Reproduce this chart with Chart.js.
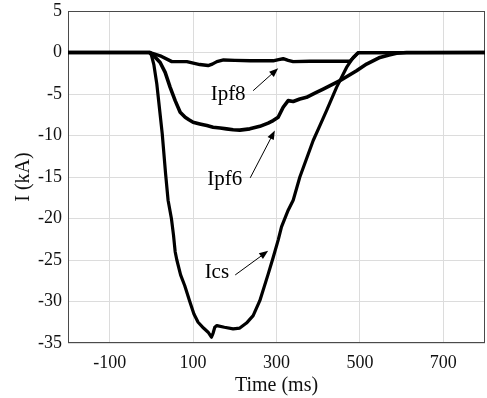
<!DOCTYPE html>
<html>
<head>
<meta charset="utf-8">
<script src="https://cdn.jsdelivr.net/npm/chart.js@4/dist/chart.umd.min.js"></script>
<style>
  html, body { margin: 0; padding: 0; background: #fff; }
  #wrap { width: 487px; height: 398px; }
</style>
</head>
<body>
<div id="wrap"><canvas id="currentChart"></canvas></div>
<script>
// DATA (time in ms, current in kA)
const xTicks = [-100, 100, 300, 500, 700];
const yTicks = [-35, -30, -25, -20, -15, -10, -5, 0, 5];

const icsTime = [-200, -5, 0, 6, 13, 26, 34, 40, 48, 53, 57, 61, 70, 80, 92, 102, 112, 125, 136, 144, 148, 152, 157, 175, 196, 212, 228, 244, 260, 280, 292, 304, 312, 328, 340, 356, 372, 388, 404, 420, 444, 468, 484, 496, 800];
const icsCurrent = [0, 0, -0.3, -1.5, -3.8, -9.8, -14.6, -17.8, -20, -22, -24, -25, -26.8, -28.1, -30, -31.5, -32.5, -33.2, -33.7, -34.3, -33.8, -33.1, -32.9, -33.1, -33.3, -33.2, -32.6, -31.7, -29.9, -26.7, -24.7, -22.6, -21, -19, -17.8, -15, -12.8, -10.6, -8.8, -7, -4.2, -1.8, -0.6, 0, 0];

const ipf6Time = [-200, -3, 8, 21, 33, 45, 57, 69, 81, 90, 100, 116, 133, 148, 165, 180, 196, 212, 236, 260, 280, 292, 304, 316, 328, 340, 356, 372, 392, 412, 432, 452, 472, 492, 516, 548, 570, 588, 612, 800];
const ipf6Current = [0, 0, -0.5, -1.2, -2.4, -4.2, -5.8, -7.2, -7.8, -8.1, -8.4, -8.6, -8.8, -9.0, -9.1, -9.2, -9.3, -9.35, -9.2, -8.9, -8.5, -8.2, -7.8, -6.6, -5.8, -5.9, -5.6, -5.4, -4.9, -4.4, -3.9, -3.4, -2.8, -2.2, -1.4, -0.6, -0.3, -0.1, 0, 0];

const ipf8Time = [-200, -3, 21, 49, 85, 116, 136, 146, 157, 173, 200, 237, 270, 292, 305, 316, 328, 340, 380, 420, 460, 476, 496, 800];
const ipf8Current = [0, 0, -0.4, -1.1, -1.1, -1.45, -1.57, -1.4, -1.1, -0.9, -0.95, -1.0, -1.0, -1.0, -0.85, -0.75, -0.95, -1.1, -1.05, -1.05, -1.05, -1.05, -0.05, 0];

// labels with arrows: text position + arrow tail/tip in data units
const labelNames = ['Ipf8', 'Ipf6', 'Ics'];
const labelAt = [[184, -5.7], [176, -16.0], [157, -27.2]];
const arrowFrom = [[244, -4.6], [237, -15.1], [201, -26.8]];
const arrowTo = [[304, -1.9], [296, -9.4], [280, -23.9]];

const serif = "'Liberation Serif', 'Times New Roman', serif";

const toPoints = (xs, ys) => xs.map((x, i) => ({ x: x, y: ys[i] }));

const lineStyle = {
  borderColor: '#000',
  pointRadius: 0,
  tension: 0,
  borderJoinStyle: 'round',
  borderCapStyle: 'round'
};

// frame + labels + arrows
const annotations = {
  id: 'annotations',
  beforeDatasetsDraw(chart) {
    const { ctx, chartArea: a } = chart;
    ctx.save();
    ctx.strokeStyle = '#4a4a4a';
    ctx.lineWidth = 1;
    ctx.strokeRect(a.left + 0.5, a.top + 0.5, a.right - a.left - 1, a.bottom - a.top - 1);
    ctx.restore();
  },
  afterDatasetsDraw(chart) {
    const { ctx, scales: { x, y } } = chart;
    ctx.save();
    ctx.fillStyle = '#000';
    ctx.strokeStyle = '#000';
    ctx.font = '21px ' + serif;
    ctx.textAlign = 'center';
    ctx.textBaseline = 'alphabetic';
    labelNames.forEach((name, i) => {
      ctx.fillText(name, x.getPixelForValue(labelAt[i][0]), y.getPixelForValue(labelAt[i][1]));

      const x0 = x.getPixelForValue(arrowFrom[i][0]);
      const y0 = y.getPixelForValue(arrowFrom[i][1]);
      const x1 = x.getPixelForValue(arrowTo[i][0]);
      const y1 = y.getPixelForValue(arrowTo[i][1]);
      const ang = Math.atan2(y1 - y0, x1 - x0);
      ctx.lineWidth = 1;
      ctx.beginPath();
      ctx.moveTo(x0, y0);
      ctx.lineTo(x1 - 6 * Math.cos(ang), y1 - 6 * Math.sin(ang));
      ctx.stroke();
      ctx.beginPath();
      ctx.moveTo(x1, y1);
      ctx.lineTo(x1 - 9 * Math.cos(ang) + 3.5 * Math.sin(ang), y1 - 9 * Math.sin(ang) - 3.5 * Math.cos(ang));
      ctx.lineTo(x1 - 9 * Math.cos(ang) - 3.5 * Math.sin(ang), y1 - 9 * Math.sin(ang) + 3.5 * Math.cos(ang));
      ctx.closePath();
      ctx.fill();
    });
    ctx.restore();
  }
};

const ctx = document.getElementById('currentChart').getContext('2d');

new Chart(ctx, {
  type: 'line',
  data: {
    datasets: [
      { label: 'Ics', data: toPoints(icsTime, icsCurrent), borderWidth: 3.2, ...lineStyle },
      { label: 'Ipf6', data: toPoints(ipf6Time, ipf6Current), borderWidth: 3.6, ...lineStyle },
      { label: 'Ipf8', data: toPoints(ipf8Time, ipf8Current), borderWidth: 3.4, ...lineStyle }
    ]
  },
  options: {
    responsive: true,
    maintainAspectRatio: false,
    animation: false,
    layout: { padding: { top: 11, right: 2, left: 0, bottom: 0 } },
    plugins: {
      legend: { display: false },
      tooltip: { enabled: false }
    },
    scales: {
      x: {
        type: 'linear',
        min: -200,
        max: 800,
        afterBuildTicks: axis => { axis.ticks = xTicks.map(v => ({ value: v })); },
        afterFit: axis => { axis.height = 55; },
        grid: { color: '#dcdcdc', drawTicks: false },
        border: { display: false },
        ticks: { color: '#111', font: { family: serif, size: 18 }, padding: 9, maxRotation: 0 },
        title: { display: true, text: 'Time (ms)', color: '#111', font: { family: serif, size: 20 }, padding: { top: 0, bottom: 0 } }
      },
      y: {
        min: -35,
        max: 5,
        afterBuildTicks: axis => { axis.ticks = yTicks.map(v => ({ value: v })); },
        afterFit: axis => {
          axis.width = 68;
          axis.paddingTop = 0;
          axis.paddingBottom = 0;
        },
        grid: { color: '#dcdcdc', drawTicks: false },
        border: { display: false },
        ticks: { color: '#111', font: { family: serif, size: 18 }, padding: 6 },
        title: { display: true, text: 'I (kA)', color: '#111', font: { family: serif, size: 20 }, padding: { top: 12, bottom: 0 } }
      }
    }
  },
  plugins: [annotations]
});
</script>
</body>
</html>
